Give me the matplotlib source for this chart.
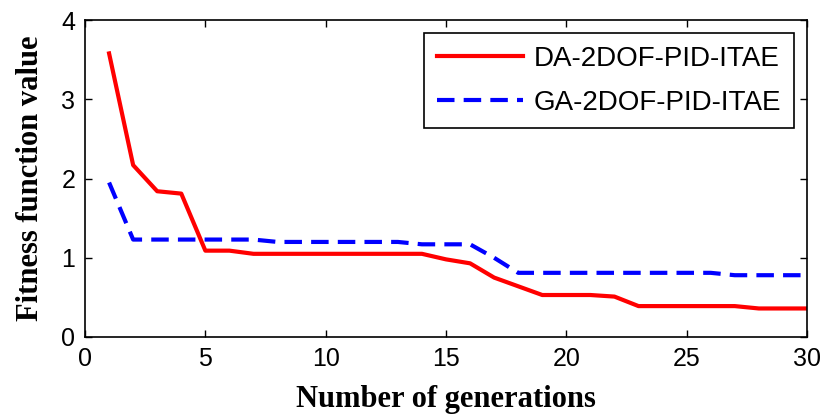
import numpy as np
import matplotlib
matplotlib.use("Agg")
from matplotlib import pyplot as plt

generations = np.arange(1, 31)
da_itae = [3.58, 2.17, 1.84, 1.81, 1.09, 1.09, 1.05, 1.05, 1.05, 1.05,
           1.05, 1.05, 1.05, 1.05, 0.98, 0.93, 0.75, 0.64, 0.53, 0.53,
           0.53, 0.51, 0.39, 0.39, 0.39, 0.39, 0.39, 0.36, 0.36, 0.36]
ga_itae = [1.95, 1.23, 1.23, 1.23, 1.23, 1.23, 1.23, 1.20, 1.20, 1.20,
           1.20, 1.20, 1.20, 1.17, 1.17, 1.17, 1.00, 0.81, 0.81, 0.81,
           0.81, 0.81, 0.81, 0.81, 0.81, 0.81, 0.78, 0.78, 0.78, 0.78]
labels = ["DA-2DOF-PID-ITAE", "GA-2DOF-PID-ITAE"]

sans = "Liberation Sans"

fig = plt.figure(figsize=(8.27, 4.18), dpi=100)
ax = fig.add_axes([0.1028, 0.1938, 0.873, 0.758])

ax.plot(generations, da_itae, color="red", lw=3, label=labels[0])
ax.plot(generations, ga_itae, color="blue", lw=3, linestyle=(0, (4.2, 2.2)),
        label=labels[1])

ax.set_xlim(0, 30)
ax.set_ylim(0, 4)
ax.set_xticks(range(0, 31, 5))
ax.set_yticks(range(0, 5))
ax.tick_params(direction="in", length=5, width=1, top=True, right=True,
               labelsize=18, pad=7)
for t in ax.get_xticklabels() + ax.get_yticklabels():
    t.set_family(sans)
for s in ax.spines.values():
    s.set_linewidth(1.2)

ax.set_xlabel("Number of generations", family="Liberation Serif",
              fontweight="bold", fontsize=22, labelpad=10)
ax.set_ylabel("Fitness function value", family="Liberation Serif",
              fontweight="bold", fontsize=22, labelpad=12)

leg = ax.legend(loc="upper right", bbox_to_anchor=(0.982, 0.959),
                borderaxespad=0, prop={"family": sans, "size": 20},
                fancybox=False, framealpha=1, edgecolor="black",
                handlelength=3.1, borderpad=0.45, labelspacing=0.65,
                handletextpad=0.4)
leg.get_frame().set_linewidth(1.2)

fig.savefig("out.png", dpi=100)
